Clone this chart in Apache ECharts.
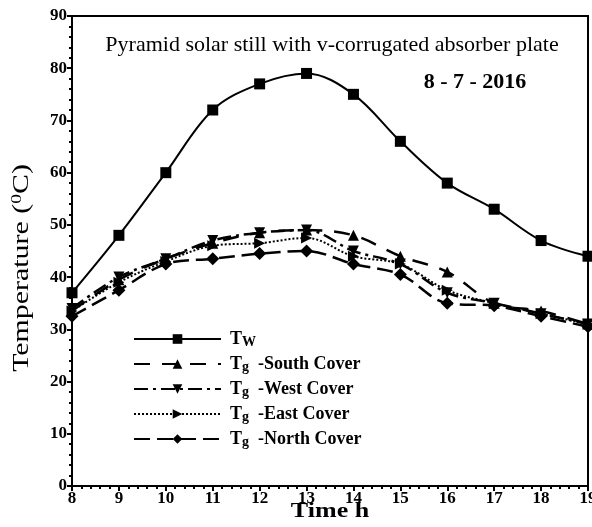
<!DOCTYPE html>
<html>
<head>
<meta charset="utf-8">
<script src="https://cdn.jsdelivr.net/npm/echarts@6/dist/echarts.min.js"></script>
<style>html,body{margin:0;padding:0;background:#fff}#c{width:592px;height:527px}</style>
</head>
<body>
<div id="c"></div>
<script>
var hours = [8, 9, 10, 11, 12, 13, 14, 15, 16, 17, 18, 19];
var tw    = [37, 48, 60, 72, 77, 79, 75, 66, 58, 53, 47, 44];
var south = [33.5, 39.5, 43.5, 46.5, 48.5, 49, 48, 44, 41, 35, 33.5, 31];
var west  = [34, 40, 43.5, 47, 48.5, 49, 45, 42.5, 37, 35, 33, 31];
var east  = [33.5, 39, 43, 46, 46.5, 47.5, 44, 42.5, 37.5, 35, 33, 31];
var north = [32.5, 37.5, 42.5, 43.5, 44.5, 45, 42.5, 40.5, 35, 34.5, 32.5, 30.5];
var seriesNames = ['Tw', 'South', 'West', 'East', 'North'];
var legendLabels = {
  'Tw': '{t|T}{sub|W}',
  'South': '{t|T}{sub|g}{t|  -South Cover}',
  'West': '{t|T}{sub|g}{t|  -West Cover}',
  'East': '{t|T}{sub|g}{t|  -East Cover}',
  'North': '{t|T}{sub|g}{t|  -North Cover}'
};
var chartTitle = 'Pyramid solar still with v-corrugated absorber plate';
var dateText = '8 - 7 - 2016';
var xTitle = 'Time h';
var yTitle = 'Temperature ({sup|0}C)';

function pairs(v) { return hours.map(function (h, i) { return [h, v[i]]; }); }
var serif = 'Liberation Serif, Times New Roman, serif';

var chart = echarts.init(document.getElementById('c'));
function mk(name, vals, symbol, rot, ltype, lw) {
  return {
    name: name, type: 'line', data: pairs(vals), smooth: 0.35,
    symbol: symbol, symbolSize: symbol === 'diamond' ? 13 : 11, symbolRotate: rot,
    lineStyle: { color: '#000', width: lw, type: ltype },
    itemStyle: { color: '#000' }, z: 3
  };
}
chart.setOption({
  animation: false,
  backgroundColor: '#fff',
  title: [
    { text: chartTitle, left: 327, top: 29, textAlign: 'center',
      textStyle: { fontFamily: serif, fontSize: 22, fontWeight: 'normal', color: '#000' } },
    { text: dateText, left: 470, top: 66, textAlign: 'center',
      textStyle: { fontFamily: serif, fontSize: 22, fontWeight: 'bold', color: '#000' } }
  ],
  grid: { left: 72, right: 4, top: 16, bottom: 41, show: true, borderColor: '#000', borderWidth: 2, outerBoundsMode: 'none' },
  legend: {
    orient: 'vertical', left: 128, top: 324, itemWidth: 87, itemHeight: 12, itemGap: 5,
    data: seriesNames,
    formatter: function (n) { return legendLabels[n]; },
    textStyle: {
      color: '#000', padding: [0, 0, 0, 4],
      rich: {
        t: { fontFamily: serif, fontSize: 18, fontWeight: 'bold', color: '#000', lineHeight: 20 },
        sub: { fontFamily: serif, fontSize: 14, fontWeight: 'bold', color: '#000', lineHeight: 20, verticalAlign: 'bottom', padding: [6, 0, 0, 0] }
      }
    }
  },
  graphic: [
    { type: 'text', x: 22, y: 268, rotation: Math.PI / 2, scaleX: 1.3,
      style: { text: yTitle, fontFamily: serif, fontSize: 23, fill: '#000', align: 'center', verticalAlign: 'middle',
        rich: { sup: { fontFamily: serif, fontSize: 15, fill: '#000', verticalAlign: 'top', padding: [0, 0, 10, 0] } } } },
    { type: 'text', x: 330, y: 512, scaleX: 1.3,
      style: { text: xTitle, fontFamily: serif, fontSize: 20, fontWeight: 'bold', fill: '#000', align: 'center', verticalAlign: 'middle' } }
  ],
  xAxis: {
    type: 'value', min: 8, max: 19, interval: 1,
    axisLine: { lineStyle: { color: '#000', width: 2 } },
    axisTick: { length: 5, lineStyle: { color: '#000', width: 2 } },
    minorTick: { show: true, splitNumber: 5, length: 3, lineStyle: { color: '#000', width: 2 } },
    splitLine: { show: false },
    axisLabel: { fontFamily: serif, fontSize: 17, fontWeight: 'bold', color: '#000', margin: 4 }
  },
  yAxis: {
    type: 'value', min: 0, max: 90, interval: 10,
    axisLine: { show: true, lineStyle: { color: '#000', width: 2 } },
    axisTick: { show: true, length: 5, lineStyle: { color: '#000', width: 2 } },
    minorTick: { show: true, splitNumber: 5, length: 3, lineStyle: { color: '#000', width: 2 } },
    splitLine: { show: false },
    axisLabel: { fontFamily: serif, fontSize: 17, fontWeight: 'bold', color: '#000', margin: 5 }
  },
  series: [
    mk('Tw', tw, 'rect', 0, 'solid', 2),
    mk('South', south, 'triangle', 0, [16, 12], 2.5),
    mk('West', west, 'triangle', 180, [14, 5, 3, 5], 2.5),
    mk('East', east, 'triangle', -90, [2, 2], 2),
    mk('North', north, 'diamond', 0, [16, 7], 2.5)
  ]
});
</script>
</body>
</html>
